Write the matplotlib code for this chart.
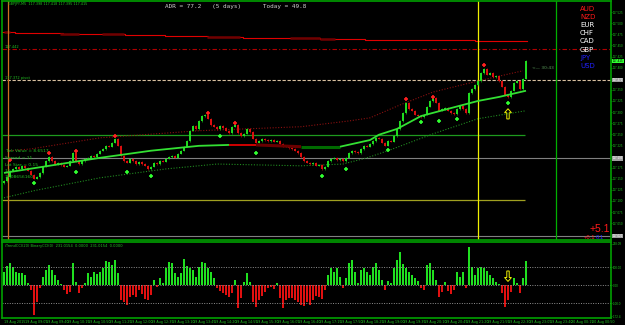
import numpy as np
import matplotlib.pyplot as plt
from matplotlib.patches import FancyArrow

# closes of the M5 bars (first bar opens at first_open)
first_open = 117.140
closes = [117.145, 117.154, 117.168, 117.172, 117.177, 117.172, 117.179, 117.174, 117.168, 117.159,
          117.150, 117.154, 117.163, 117.177, 117.190, 117.199, 117.190, 117.183, 117.186, 117.181,
          117.177, 117.179, 117.190, 117.208, 117.190, 117.183, 117.190, 117.195, 117.197, 117.201,
          117.199, 117.206, 117.213, 117.217, 117.224, 117.222, 117.231, 117.240, 117.224, 117.201,
          117.190, 117.186, 117.195, 117.190, 117.183, 117.188, 117.183, 117.179, 117.172, 117.177,
          117.186, 117.183, 117.190, 117.188, 117.195, 117.199, 117.201, 117.197, 117.206, 117.213,
          117.222, 117.235, 117.258, 117.269, 117.262, 117.280, 117.291, 117.294, 117.285, 117.271,
          117.267, 117.262, 117.269, 117.264, 117.258, 117.253, 117.267, 117.271, 117.253, 117.246,
          117.251, 117.262, 117.255, 117.240, 117.231, 117.235, 117.240, 117.237, 117.235, 117.237,
          117.233, 117.235, 117.228, 117.222, 117.224, 117.219, 117.217, 117.213, 117.208, 117.199,
          117.190, 117.186, 117.183, 117.186, 117.179, 117.181, 117.172, 117.177, 117.190, 117.195,
          117.197, 117.192, 117.195, 117.190, 117.197, 117.208, 117.213, 117.210, 117.208, 117.217,
          117.224, 117.222, 117.228, 117.235, 117.242, 117.240, 117.231, 117.224, 117.235, 117.233,
          117.246, 117.262, 117.280, 117.298, 117.321, 117.307, 117.303, 117.294, 117.291, 117.289,
          117.294, 117.312, 117.325, 117.332, 117.321, 117.303, 117.307, 117.309, 117.303, 117.298,
          117.296, 117.307, 117.314, 117.307, 117.298, 117.343, 117.352, 117.361, 117.370, 117.388,
          117.397, 117.384, 117.388, 117.379, 117.381, 117.370, 117.357, 117.339, 117.334, 117.348,
          117.366, 117.370, 117.352, 117.375, 117.415]

# TrendCCI histogram, one value per bar
cci = [74, 107, 120, 102, 74, 65, 65, 55, 9, -28, -167, -93, -19, 46, 83, 111, 83, 55, 28, 4,
       -28, -52, -37, 120, 18, -46, -19, 9, 65, 46, 74, 59, 74, 92, 133, 126, 111, 139, 65, -83,
       -93, -111, -65, -56, -65, -28, -52, -78, -83, -56, 28, -9, 37, 9, 92, 130, 120, 65, 46, 65,
       144, 107, 96, 83, 46, 102, 130, 120, 92, 70, 41, -15, -33, -46, -56, -65, -46, 28, -130, -74,
       18, 65, 18, -93, -120, -83, -59, -37, -15, -9, -22, 9, -74, -130, -83, -70, -74, -83, -93, -111,
       -115, -93, -111, -83, -59, -65, -78, -28, 55, 92, 74, 92, 46, -19, 37, 120, 139, 74, 9, 83,
       92, 74, 55, 102, 120, 83, 28, -28, 22, 9, 92, 139, 185, 115, 92, 74, 55, 41, 22, -19,
       -28, 111, 120, 83, 28, -65, -37, 18, -33, -52, -28, 74, 46, 74, -15, 213, 102, 55, 92, 102,
       92, 78, 55, 41, 18, 4, -46, -120, -83, -37, 37, 9, -46, 37, 133]

# main moving average (vertices) and its colour runs
ma_idx = [0, 15, 32, 49, 65, 75, 84, 99, 112, 122, 125, 131, 139, 149, 158, 165, 174]
ma_val = [117.163, 117.179, 117.197, 117.213, 117.224, 117.226, 117.226, 117.222, 117.222, 117.237,
          117.249, 117.262, 117.291, 117.309, 117.325, 117.334, 117.348]
ma_runs = [(0, 5, '#33e033', 1.3), (5, 6, '#e00000', 1.3), (6, 7, '#6a0000', 2.2),
           (7, 8, '#006a00', 2.2), (8, 16, '#33e033', 1.3)]

# channel bands
up_idx = [2, 9, 32, 65, 99, 115, 122, 132, 143, 158, 173]
up_val = [117.213, 117.217, 117.242, 117.258, 117.267, 117.280, 117.287, 117.316, 117.345, 117.370, 117.393]
lo_idx = [0, 10, 32, 54, 71, 99, 113, 121, 128, 143, 158, 174]
lo_val = [117.107, 117.123, 117.152, 117.172, 117.183, 117.179, 117.183, 117.197, 117.213, 117.251,
          117.285, 117.303]

# stepped red level
step_x = [-0.7, 3.7, 19.7, 32, 40.3, 53.7, 68, 79.7, 105.3, 120.3, 157, 174.3]
step_y = [117.481, 117.479, 117.476, 117.475, 117.474, 117.471, 117.470, 117.466, 117.464, 117.462, 117.460]
dark_runs = [(3.7, 10.3), (60, 78.7), (102, 123.7), (207, 240), (290, 320), (320, 335)]

# fractal arrows
red_idx = [2, 15, 24, 37, 68, 77, 134, 143, 160]
red_val = [117.192, 117.208, 117.212, 117.246, 117.298, 117.276, 117.330, 117.334, 117.406]
grn_idx = [10, 24, 41, 49, 72, 84, 106, 114, 128, 139, 145, 151, 168]
grn_val = [117.141, 117.165, 117.165, 117.156, 117.246, 117.208, 117.156, 117.172, 117.215, 117.278,
           117.280, 117.285, 117.321]

price_ticks = [117.025, 117.050, 117.075, 117.100, 117.125, 117.150, 117.175, 117.200, 117.225,
               117.250, 117.275, 117.300, 117.325, 117.350, 117.375, 117.400, 117.425, 117.450,
               117.475, 117.500, 117.525]
box_prices = [117.415, 117.372, 117.196, 117.021]
time_labels = ['19 Aug 2015', '19 Aug 09:05', '19 Aug 09:40', '19 Aug 10:15', '19 Aug 10:50',
               '19 Aug 11:25', '19 Aug 12:00', '19 Aug 12:35', '19 Aug 13:10', '19 Aug 13:45',
               '19 Aug 14:20', '19 Aug 14:55', '19 Aug 15:30', '19 Aug 16:05', '19 Aug 16:40',
               '19 Aug 17:15', '19 Aug 17:50', '19 Aug 18:25', '19 Aug 19:00', '19 Aug 19:35',
               '19 Aug 20:10', '19 Aug 20:45', '19 Aug 21:20', '19 Aug 21:55', '19 Aug 22:30',
               '19 Aug 23:05', '19 Aug 23:40', '20 Aug 00:15', '20 Aug 00:50']
currencies = ['AUD', 'NZD', 'EUR', 'CHF', 'CAD', 'GBP', 'JPY', 'USD']
cur_colors = ['#ff1a1a', '#ff1a1a', 'white', 'white', 'white', 'white', '#2222ff', '#2222ff']

BORDER = '#00a000'
TXT = '#22c022'
SMALL = 'Liberation Sans'
W, H = 625, 325
XL = (-2 / 3, 607 / 3)

fig = plt.figure(figsize=(6.25, 3.25), dpi=100, facecolor='black')
ax = fig.add_axes([2 / W, (H - 240) / H, 609 / W, 239 / H])
ax2 = fig.add_axes([2 / W, 7 / H, 609 / W, 76 / H])

for a in (ax, ax2):
    a.set_facecolor('black')
    a.set_xlim(*XL)
    a.set_xticks([])
    for s in a.spines.values():
        s.set_color(BORDER)
        s.set_linewidth(1.2)
    a.yaxis.tick_right()
    a.tick_params(axis='y', colors=BORDER, length=1, width=0.6, labelsize=2.2, pad=0.4,
                  labelcolor=TXT)

ax.set_ylim(117.012, 117.550)
# tick labels hidden where a price box sits on top of them
shown = [p for p in price_ticks if min(abs(p - b) for b in box_prices) > 0.007]
ax.set_yticks(shown)
ax.set_yticklabels(['%.3f' % p for p in shown], family=SMALL)

# horizontal levels
ax.axhline(117.442, color='#b00000', lw=0.8, ls=(0, (4, 2, 1, 2)))
ax.axhline(117.372, color='#d8c0a0', lw=0.8, ls=(0, (3, 1.5)))
ax.axhline(117.196, color='#808080', lw=0.8)
ax.axhline(117.021, color='#808080', lw=0.8)
ax.hlines(117.248, XL[0], 173.7, color='#1e9a1e', lw=0.9)
ax.hlines(117.102, XL[0], 173.7, color='#a0a020', lw=0.9)

# stepped red line with darker overlays
ax.step(step_x, step_y + [step_y[-1]], where='post', color='#e00000', lw=0.8)
for x0, x1 in dark_runs:
    x0i, x1i = (x0 - 4) / 3, (x1 - 4) / 3
    k = max(j for j in range(len(step_y)) if step_x[j] <= (x0i + x1i) / 2)
    ax.hlines(step_y[k], x0i, x1i, color='#700000', lw=1.8)

# vertical markers
ax.axvline(1.33, color='#d07020', lw=0.9)
ax.axvline(158, color='#f0f000', lw=0.9)
ax.axvline(184, color='#00b000', lw=0.9)

# bands
ax.plot(up_idx, up_val, color='#8a1010', lw=0.8, ls=(0, (1, 1.5)))
ax.plot(lo_idx, lo_val, color='#208a20', lw=0.8, ls=(0, (1, 1.5)))

# candles
opens = [first_open] + closes[:-1]
xs = np.arange(len(closes))
for x, o, c in zip(xs, opens, closes):
    col = '#20e020' if c >= o else '#e01010'
    lo, hi = min(o, c), max(o, c)
    if hi - lo < 0.001:
        hi = lo + 0.001
    ax.vlines(x, lo - 0.0015, hi + 0.0015, color=col, lw=0.4)
    ax.vlines(x, lo, hi, color=col, lw=1.4)

# moving average
for i0, i1, col, lw in ma_runs:
    ax.plot(ma_idx[i0:i1 + 1], ma_val[i0:i1 + 1], color=col, lw=lw, solid_capstyle='butt')

ax.plot(red_idx, red_val, ls='none', marker='+', color='#ff2020', ms=3.5, mew=1.2)
ax.plot(grn_idx, grn_val, ls='none', marker='+', color='#30ff30', ms=3.5, mew=1.2)

ax.add_patch(FancyArrow(168, 117.2845, 0, 0.014, width=0.8, head_width=2.3, head_length=0.009,
                        length_includes_head=False, facecolor='none', edgecolor='#f0f000', lw=0.7))

# texts
mono = 'DejaVu Sans Mono'
ax.text(163 / 609, 1 - 6 / 239, 'ADR = 77.2   (5 days)      Today = 49.8', transform=ax.transAxes,
        family=mono, fontsize=4.3, color='#d0d0d0', va='center')
ax.text(6 / 609, 1 - 3 / 239, 'GBPJPY,M5  117.398 117.418 117.395 117.415', transform=ax.transAxes,
        fontsize=2.4, color=TXT, va='center')
for k, (cur, cc) in enumerate(zip(currencies, cur_colors)):
    ax.text(578 / 609, 1 - (8 + 8.1 * k) / 239, cur, transform=ax.transAxes, fontsize=5,
            color=cc, va='center')
left_info = ['Tick Value = 8.6517', 'Spread = 11', 'Lot Size = 0.15', '15 ...', '10.08656160']
for k, s in enumerate(left_info):
    ax.text(3 / 609, 1 - (150.5 + 6.5 * k) / 239, s, transform=ax.transAxes, fontsize=3.2,
            color=TXT, va='center')
ax.text(3 / 609, 117.442, '117.442', fontsize=2.6, color=TXT, va='bottom',
        transform=ax.get_yaxis_transform())
ax.text(3 / 609, 117.372, '117.372 pivot', fontsize=2.6, color=TXT, va='bottom',
        transform=ax.get_yaxis_transform())
ax.text(176, 117.400, '<— 30:43', fontsize=3.2, color='#5a9a5a', va='center')
ax.text(588 / 609, 1 - 228.5 / 239, '+5.1', transform=ax.transAxes, fontsize=7.5,
        color='#ff1a1a', va='center', family='Liberation Sans')
ax.text(582 / 609, 1 - 236.5 / 239, '+0.1', transform=ax.transAxes, fontsize=4.2,
        color='#ff1a1a', va='center', family='Liberation Sans')
ax.text(594 / 609, 1 - 236.5 / 239, '0.1', transform=ax.transAxes, fontsize=4.2,
        color='#2222ff', va='center', family='Liberation Sans')

# right axis price boxes
for p, fc, tc in zip(box_prices, ['#30ff30', '#a0a0a0', '#a0a0a0', '#a0a0a0'],
                     ['black', 'white', 'white', 'white']):
    ax.text(1.0025, p, '%.3f' % p, transform=ax.get_yaxis_transform(), fontsize=2.2, color=tc,
            va='center', ha='left', clip_on=False, family=SMALL,
            bbox=dict(boxstyle='square,pad=0.12', fc=fc, ec='none'))

# lower panel
ax2.set_ylim(-183, 239)
ax2.bar(xs, cci, width=0.8, color=['#20e020' if v > 0 else '#e01010' for v in cci])
for lv in (100, 0, -100):
    ax2.axhline(lv, color='#909090', lw=0.7, ls=(0, (1, 1.5)))
ax2.set_yticks([228, 100, 0, -100, -172])
ax2.set_yticklabels(['228.09', '100.00', '0.00', '-100.0', '-172.4'], family=SMALL)
ax2.add_patch(FancyArrow(168, 78, 0, -36, width=0.8, head_width=2.3, head_length=22,
                         facecolor='none', edgecolor='#f0f000', lw=0.7))
ax2.text(3 / 609, 1 - 4 / 76, 'iTrendCCI(20) BinaryCCI(0)  231.0154  0.0000  231.0154  0.0000',
         transform=ax2.transAxes, fontsize=2.6, color=TXT, va='center')

# time axis labels
for k, lab in enumerate(time_labels):
    xi = 7 * k
    if xi > XL[1] - 6:
        break
    ax2.text(xi, -0.02, lab, transform=ax2.get_xaxis_transform(), fontsize=2.4, color=TXT,
             va='top', ha='left', clip_on=False)

fig.savefig('out.png', dpi=100, facecolor='black')
